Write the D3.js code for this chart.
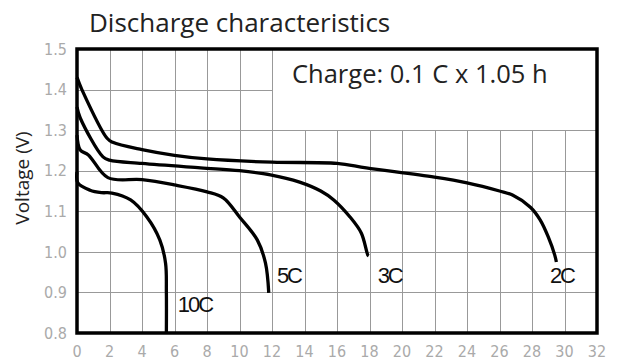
<!DOCTYPE html>
<html>
<head>
<meta charset="utf-8">
<script src="https://cdn.jsdelivr.net/npm/d3@7"></script>
<style>
  body { margin: 0; background: #fff; }
  svg { display: block; }
</style>
</head>
<body>
<svg id="chart" width="626" height="362"></svg>
<script>
// discharge curves, [time, voltage]
const curve2C = [[0,1.43],[0.3,1.40],[1.85,1.28],[2.2,1.27],[4,1.252],[6,1.238],[8,1.229],[12,1.221],[16,1.218],[17.8,1.207],[22,1.184],[24,1.17],[26,1.15],[26.8,1.14],[27.9,1.11],[28.5,1.079],[29,1.037],[29.4,0.992],[29.5,0.975]];
const curve3C = [[0,1.357],[0.2,1.33],[1.6,1.234],[2,1.226],[4,1.218],[7.6,1.207],[10,1.2],[11.9,1.19],[13.7,1.172],[15,1.15],[15.8,1.128],[16.8,1.086],[17.5,1.046],[17.9,0.992],[17.95,0.99]];
const curve5C = [[0,1.288],[0.2,1.251],[0.7,1.239],[1.9,1.183],[4,1.178],[6,1.165],[8,1.148],[9,1.133],[10,1.086],[11.1,1.029],[11.6,0.972],[11.8,0.899]];
const curve10C = [[0,1.197],[0.05,1.17],[0.8,1.152],[1.5,1.146],[2.15,1.145],[3.3,1.128],[4.3,1.086],[5.1,1.029],[5.45,0.972],[5.5,0.9],[5.5,0.8]];

const series = [
  { name: "2C", values: curve2C },
  { name: "3C", values: curve3C },
  { name: "5C", values: curve5C },
  { name: "10C", values: curve10C }
];

const xTicks = d3.range(0, 33, 2);
const yTicks = [0.8, 0.9, 1.0, 1.1, 1.2, 1.3, 1.4, 1.5];

const margin = { top: 49, right: 29, bottom: 29, left: 77 };
const width = 626 - margin.left - margin.right;
const height = 362 - margin.top - margin.bottom;

const svg = d3.select("#chart");
const g = svg.append("g").attr("transform", `translate(${margin.left},${margin.top})`);

const x = d3.scaleLinear().domain([0, 32]).range([0, width]);
const y = d3.scaleLinear().domain([0.8, 1.5]).range([height, 0]);

// grid
g.append("g")
  .selectAll("line")
  .data(xTicks)
  .join("line")
  .attr("x1", d => Math.round(x(d)) + 0.5)
  .attr("x2", d => Math.round(x(d)) + 0.5)
  .attr("y1", 0)
  .attr("y2", height)
  .attr("stroke", "#999")
  .attr("stroke-width", 1);

g.append("g")
  .selectAll("line")
  .data(yTicks)
  .join("line")
  .attr("x1", 0)
  .attr("x2", width)
  .attr("y1", d => Math.round(y(d)) + 0.5)
  .attr("y2", d => Math.round(y(d)) + 0.5)
  .attr("stroke", "#999")
  .attr("stroke-width", 1);

// white box behind the charge note
g.append("rect")
  .attr("x", Math.round(x(12)) + 1)
  .attr("y", 0)
  .attr("width", width - Math.round(x(12)) - 1)
  .attr("height", Math.round(y(1.3)))
  .attr("fill", "#fff");

// curves
const line = d3.line()
  .x(d => x(d[0]))
  .y(d => y(d[1]))
  .curve(d3.curveCatmullRom.alpha(0.5));

g.selectAll("path.curve")
  .data(series)
  .join("path")
  .attr("class", "curve")
  .attr("d", d => line(d.values))
  .attr("fill", "none")
  .attr("stroke", "#000")
  .attr("stroke-width", 3.3)
  .attr("stroke-linejoin", "round")
  .attr("stroke-linecap", "butt");

// frame
g.append("rect")
  .attr("x", 0)
  .attr("y", 0)
  .attr("width", width)
  .attr("height", height)
  .attr("fill", "none")
  .attr("stroke", "#000")
  .attr("stroke-width", 3.5);

// tick labels
const tickFont = "'Liberation Sans Narrow', 'DejaVu Sans Condensed', sans-serif";
g.append("g")
  .selectAll("text")
  .data(yTicks)
  .join("text")
  .attr("x", -10)
  .attr("y", d => y(d))
  .attr("dy", "0.36em")
  .attr("text-anchor", "end")
  .attr("font-family", tickFont)
  .attr("font-size", 16)
  .attr("fill", "#aaa")
  .text(d => d.toFixed(1));

g.append("g")
  .selectAll("text")
  .data(xTicks)
  .join("text")
  .attr("x", d => x(d))
  .attr("y", height + 24)
  .attr("text-anchor", "middle")
  .attr("font-family", tickFont)
  .attr("font-size", 16)
  .attr("fill", "#aaa")
  .text(d => d);

// curve labels
const labelPos = { "2C": [29.1, 0.923], "3C": [18.5, 0.923], "5C": [12.3, 0.923], "10C": [6.2, 0.852] };
g.append("g")
  .selectAll("text")
  .data(series)
  .join("text")
  .attr("x", d => x(labelPos[d.name][0]))
  .attr("y", d => y(labelPos[d.name][1]))
  .attr("font-family", "'Liberation Sans', Arial, sans-serif")
  .attr("font-size", 22)
  .attr("letter-spacing", -2)
  .attr("fill", "#111")
  .text(d => d.name);

// title and notes
svg.append("text")
  .attr("x", 89)
  .attr("y", 32)
  .attr("font-family", "'Open Sans', sans-serif")
  .attr("font-size", 26)
  .attr("fill", "#222")
  .text("Discharge characteristics");

svg.append("text")
  .attr("x", 292)
  .attr("y", 83)
  .attr("font-family", "'Open Sans', sans-serif")
  .attr("font-size", 25.5)
  .attr("fill", "#222")
  .text("Charge: 0.1 C x 1.05 h");

svg.append("text")
  .attr("transform", "translate(29,178) rotate(-90)")
  .attr("text-anchor", "middle")
  .attr("font-family", "'Open Sans', sans-serif")
  .attr("font-size", 19)
  .attr("fill", "#222")
  .text("Voltage (V)");
</script>
</body>
</html>
